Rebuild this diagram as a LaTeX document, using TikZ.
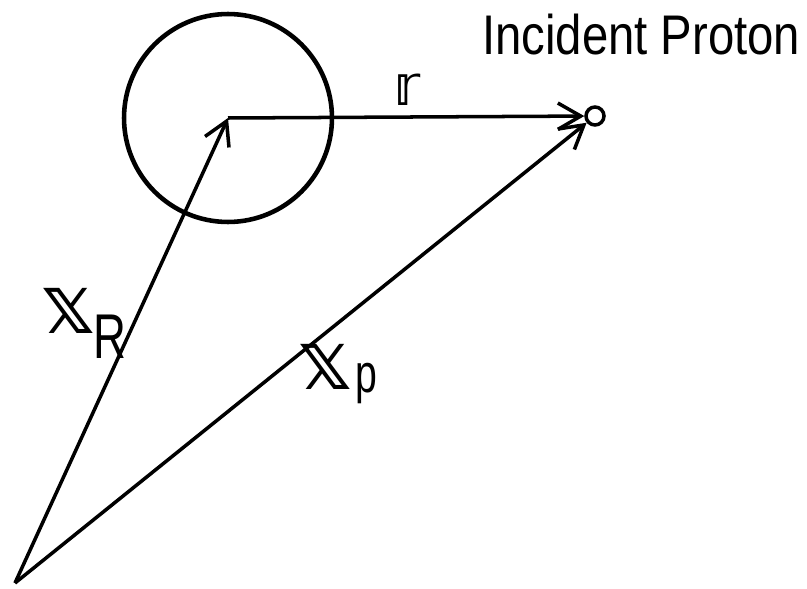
\documentclass[tikz,border=0pt]{standalone}
\usepackage{fontspec}
\setmainfont{Liberation Sans}
\newfontfamily\bbfont{DejaVu Sans}
\usepackage{graphicx}
\usetikzlibrary{arrows.meta, positioning}
\tikzset{
  vec/.style={line width=2pt, -{Straight Barb[length=13pt, width=15pt, line width=2pt]}},
  lbl/.style={inner sep=0pt},
}
\newcommand{\bbx}{{\bbfont\fontsize{47}{50}\selectfont 𝕩}}
\newcommand{\narrow}[2]{\fontsize{#1}{#1}\selectfont\scalebox{0.72}[1]{#2}}

\begin{document}
\begin{tikzpicture}[x=0.02cm, y=-0.02cm]
  \useasboundingbox (0,0) rectangle (807,588);

  % points
  \coordinate (O) at (15,583);
  \coordinate (C) at (228,118);
  \node[draw, circle, line width=2pt, minimum size=0.36cm, inner sep=0pt] (P) at (595,116) {};

  % target nucleus
  \draw[line width=2.6pt] (C) circle[radius=2.08cm];

  % position vectors
  \draw[vec] (O) -- (C);
  \draw[vec] (O) -- (P);
  \draw[vec] (C) -- (P);

  % labels
  \node[lbl] (xR) at (68,311) {\bbx};
  \node[lbl, anchor=base] (xRsub) at (110,358) {\narrow{36}{R}};
  \node[lbl] (xp) at (325,367) {\bbx};
  \node[lbl, anchor=base] (xpsub) at (366,392) {\narrow{31}{p}};
  \node[lbl] (rlbl) at (407,90) {\bbfont\fontsize{32}{34}\selectfont 𝕣};
  \node[lbl, anchor=base west] (title) at (482,55)
    {\fontsize{31.8}{36}\selectfont\scalebox{0.846}[1]{Incident Proton}};
\end{tikzpicture}
\end{document}
